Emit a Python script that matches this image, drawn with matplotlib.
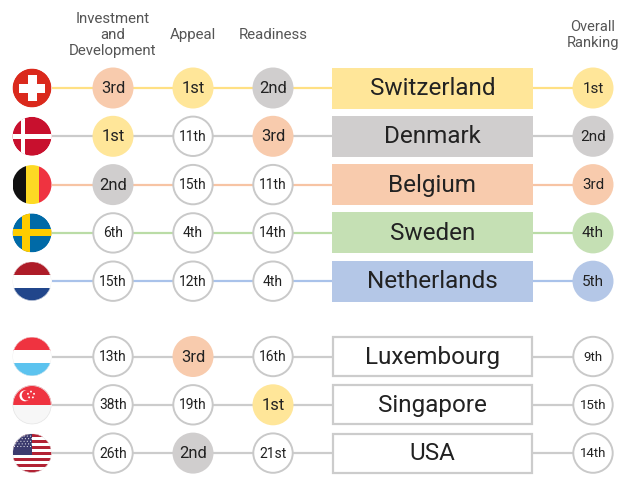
import matplotlib
matplotlib.use("Agg")
import matplotlib.pyplot as plt
from matplotlib.patches import Circle, Rectangle, RegularPolygon
import numpy as np

plt.rcParams['font.family'] = ['Roboto', 'DejaVu Sans']

# ---------------- data ----------------
countries = ['Switzerland', 'Denmark', 'Belgium', 'Sweden', 'Netherlands',
             'Luxembourg', 'Singapore', 'USA']
flags = ['ch', 'dk', 'be', 'se', 'nl', 'lu', 'sg', 'us']
investment = ['3rd', '1st', '2nd', '6th', '15th', '13th', '38th', '26th']
appeal = ['1st', '11th', '15th', '4th', '12th', '3rd', '19th', '2nd']
readiness = ['2nd', '3rd', '11th', '14th', '4th', '16th', '1st', '21st']
overall = ['1st', '2nd', '3rd', '4th', '5th', '9th', '15th', '14th']
column_titles = ['Investment\nand\nDevelopment', 'Appeal', 'Readiness']
overall_title = 'Overall\nRanking'

rank_fill = {'1st': '#FFE699', '2nd': '#D0CECE', '3rd': '#F8CBAD',
             '4th': '#C5E0B4', '5th': '#B4C7E7'}
rank_line = {'1st': '#FFE083', '2nd': '#CBCBCB', '3rd': '#F7C4A4',
             '4th': '#BADCA6', '5th': '#A9C2EA'}
GREY_EDGE = '#C9C9C9'
TEXT = '#222222'

# ---------------- layout ----------------
W, H = 639, 498
fig = plt.figure(figsize=(W / 100, H / 100), dpi=100)
ax = fig.add_axes([0, 0, 1, 1])
ax.set_xlim(0, W)
ax.set_ylim(H, 0)
ax.axis('off')

flag_x = 32
col_x = [113, 193, 273]
box_x0, box_x1 = 332, 533
box_h = 41
over_x = 593
R = 20.5
FR = 19.5


def row_y(i):
    return 88 + 48.3 * i + (27 if i >= 5 else 0)


def draw_flag(code, cx, cy, r):
    clip = Circle((cx, cy), r, transform=ax.transData)

    def add(p):
        p.set_clip_path(clip)
        p.set_zorder(5)
        ax.add_patch(p)

    if code == 'ch':
        add(Circle((cx, cy), r, color='#DA291C', lw=0))
        a, w = 13, 4.5
        add(Rectangle((cx - a, cy - w), 2 * a, 2 * w, color='white', lw=0))
        add(Rectangle((cx - w, cy - a), 2 * w, 2 * a, color='white', lw=0))
    elif code == 'dk':
        add(Circle((cx, cy), r, color='#C8102E', lw=0))
        w = 2.2
        add(Rectangle((cx - r, cy - w), 2 * r, 2 * w, color='white', lw=0))
        add(Rectangle((cx - 9 - w, cy - r), 2 * w, 2 * r, color='white', lw=0))
    elif code == 'be':
        cols = ['#111111', '#FDDA24', '#EF3340']
        for k, c in enumerate(cols):
            add(Rectangle((cx - r + k * 2 * r / 3, cy - r), 2 * r / 3 + 0.5, 2 * r, color=c, lw=0))
    elif code == 'se':
        add(Circle((cx, cy), r, color='#006AA7', lw=0))
        w = 3.6
        add(Rectangle((cx - r, cy - w), 2 * r, 2 * w, color='#FECC00', lw=0))
        add(Rectangle((cx - 6 - w, cy - r), 2 * w, 2 * r, color='#FECC00', lw=0))
    elif code in ('nl', 'lu'):
        cols = ['#AE1C28', 'white', '#21468B'] if code == 'nl' else ['#EF3340', 'white', '#5CC3EF']
        for k, c in enumerate(cols):
            add(Rectangle((cx - r, cy - r + k * 2 * r / 3), 2 * r, 2 * r / 3 + 0.5, color=c, lw=0))
        add(Circle((cx, cy), r, fill=False, ec='#EEEEEE', lw=0.6))
    elif code == 'sg':
        add(Rectangle((cx - r, cy - r), 2 * r, r, color='#EF3340', lw=0))
        add(Rectangle((cx - r, cy), 2 * r, r, color='#F7F7F7', lw=0))
        add(Circle((cx, cy), r, fill=False, ec='#E6E6E6', lw=1.0))
        add(Circle((cx - 7, cy - 9), 5.5, color='white', lw=0))
        add(Circle((cx - 5, cy - 9.5), 5.2, color='#EF3340', lw=0))
        for ang in np.arange(5) * 72:
            t = np.deg2rad(ang - 90)
            add(RegularPolygon((cx - 1 + 3.2 * np.cos(t), cy - 10 + 3.2 * np.sin(t)),
                               5, radius=1.1, color='white', lw=0))
    elif code == 'us':
        sh = 2 * r / 13
        for k in range(13):
            c = '#B22234' if k % 2 == 0 else 'white'
            add(Rectangle((cx - r, cy - r + k * sh), 2 * r, sh + 0.1, color=c, lw=0))
        add(Rectangle((cx - r, cy - r), r, 7 * sh, color='#3C3B6E', lw=0))
        for rr in range(5):
            for cc in range(6):
                add(Circle((cx - r + 2 + cc * 3.2 + (rr % 2) * 1.3, cy - r + 2.5 + rr * 2.6),
                           0.55, color='white', lw=0))
        add(Circle((cx, cy), r, fill=False, ec='#E6E6E6', lw=0.6))


def draw_rank(x, y, txt, fill, big):
    if fill is None:
        ax.add_patch(Circle((x, y), R - 0.8, fc='white', ec=GREY_EDGE, lw=1.4, zorder=4))
    else:
        ax.add_patch(Circle((x, y), R, fc=fill, ec='none', zorder=4))
    ax.text(x, y + 0.5, txt, ha='center', va='center',
            fontsize=big, color=TEXT, zorder=6)


# header
for x, t in zip(col_x, column_titles):
    ax.text(x, 35, t, ha='center', va='center', fontsize=10.8, color='#555555',
            linespacing=1.2)
ax.text(over_x, 35, overall_title, ha='center', va='center', fontsize=10.5,
        color='#555555', linespacing=1.2)

for i, name in enumerate(countries):
    y = row_y(i)
    top = i < 5
    lc = rank_line[overall[i]] if top else '#CCCCCC'
    ax.plot([flag_x + FR, over_x], [y, y], color=lc, lw=1.6, zorder=1,
            solid_capstyle='butt')
    draw_flag(flags[i], flag_x, y, FR)
    for x, ranks in zip(col_x, [investment, appeal, readiness]):
        r = ranks[i]
        fill = rank_fill[r] if r in ('1st', '2nd', '3rd') else None
        draw_rank(x, y, r, fill, 12 if fill else 10)
    # country box
    if top:
        ax.add_patch(Rectangle((box_x0, y - box_h / 2), box_x1 - box_x0, box_h,
                               fc=rank_fill[overall[i]], ec='none', zorder=3))
    else:
        ax.add_patch(Rectangle((box_x0 + 1, y - box_h / 2 + 1), box_x1 - box_x0 - 2, box_h - 2,
                               fc='white', ec='#CCCCCC', lw=1.6, zorder=3))
    ax.text((box_x0 + box_x1) / 2, y + 0.5, name, ha='center', va='center',
            fontsize=17.5, color=TEXT, zorder=6)
    o = overall[i]
    draw_rank(over_x, y, o, rank_fill.get(o) if top else None, 11 if top else 9.5)

fig.savefig('out.png', dpi=100)
